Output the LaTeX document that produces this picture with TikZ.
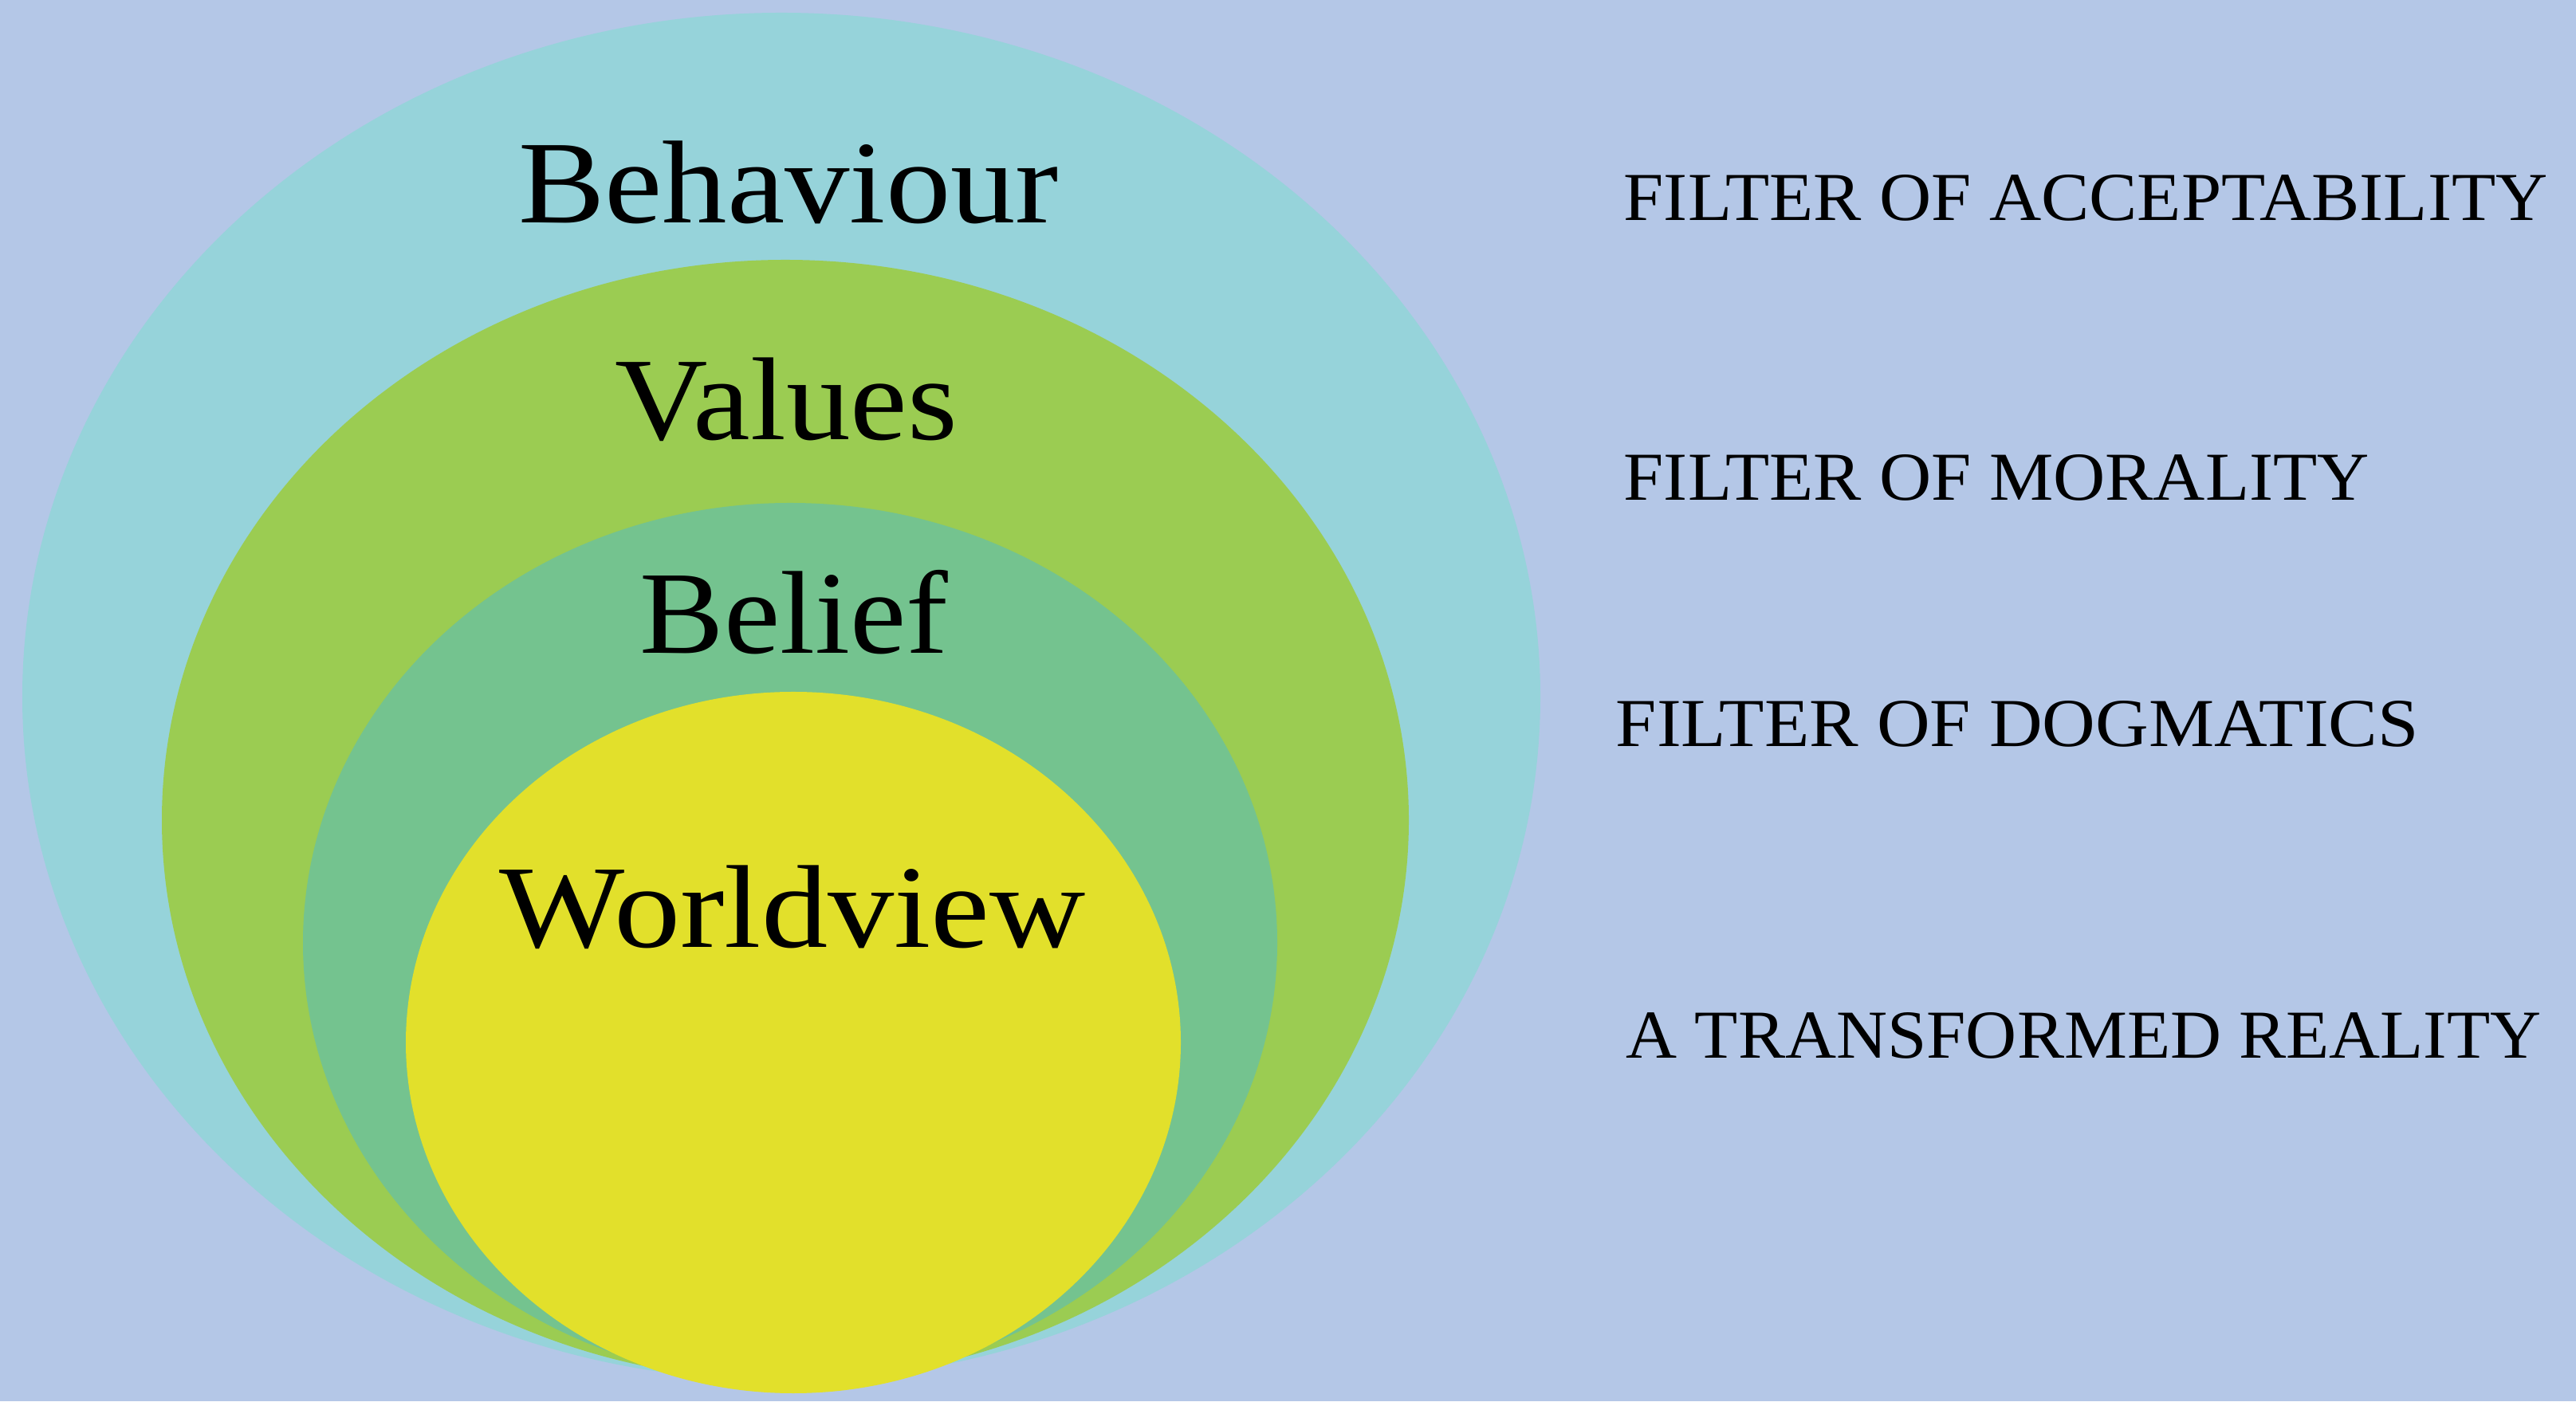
\documentclass[tikz,border=0pt]{standalone}
\usepackage{fontspec}
\setmainfont{Liberation Serif}
\usepackage{graphicx}
\definecolor{bgblue}{RGB}{180,199,231}
\definecolor{outercyan}{RGB}{150,211,218}
\definecolor{valgreen}{RGB}{155,204,82}
\definecolor{belteal}{RGB}{116,195,143}
\definecolor{wvyellow}{RGB}{226,224,43}
\newcommand{\sxbox}[2]{\scalebox{#1}[1]{#2}}
\begin{document}
\begin{tikzpicture}[
  biglabel/.style={inner sep=0pt, anchor=base, text=black, font=\fontsize{42.1}{50}\selectfont},
  filterlabel/.style={inner sep=0pt, anchor=base west, text=black, font=\fontsize{24.5}{30}\selectfont}
]
\fill[bgblue] (0,0) rectangle (32.31,17.58);
\useasboundingbox (0,0) rectangle (32.31,17.58);
\fill[outercyan] (9.80,8.84) ellipse [x radius=9.52cm, y radius=8.58cm];
\fill[valgreen] (9.85,7.29) ellipse [x radius=7.82cm, y radius=7.03cm];
\fill[belteal] (9.91,5.75) ellipse [x radius=6.11cm, y radius=5.52cm];
\fill[wvyellow] (9.95,4.50) ellipse [x radius=4.86cm, y radius=4.40cm];
\node[biglabel] (behaviour) at (9.89,14.78) {\sxbox{1.10}{Behaviour}};
\node[biglabel] (values) at (9.86,12.06) {\sxbox{1.09}{Values}};
\node[biglabel] (belief) at (9.96,9.38) {\sxbox{1.07}{Belief}};
\node[biglabel] (worldview) at (9.94,5.69) {\sxbox{1.125}{Worldview}};
\node[filterlabel] (accept) at (20.36,14.81) {\sxbox{1.049}{FILTER OF ACCEPTABILITY}};
\node[filterlabel] (moral) at (20.36,11.30) {\sxbox{1.049}{FILTER OF MORALITY}};
\node[filterlabel] (dogma) at (20.26,8.21) {\sxbox{1.072}{FILTER OF DOGMATICS}};
\node[filterlabel] (reality) at (20.39,4.30) {\sxbox{1.03}{A TRANSFORMED REALITY}};
\end{tikzpicture}
\end{document}
